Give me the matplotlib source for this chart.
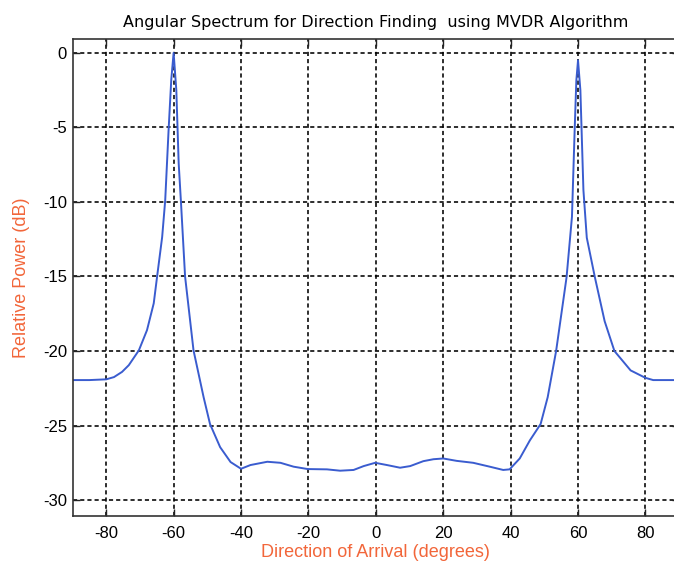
import matplotlib
matplotlib.use("Agg")
import matplotlib.pyplot as plt

plt.rcParams['font.family'] = ['Liberation Sans', 'DejaVu Sans']
plt.rcParams['axes.unicode_minus'] = False

# angle of arrival (degrees) and MVDR spectrum (dB)
angles = [-90, -85, -80, -77.7, -75.3, -73.3, -70.3, -67.9, -65.9, -64.9,
          -63.4, -62.5, -61.5, -60.7, -60.0, -59.2, -58.5, -57.8, -56.6, -54.1,
          -51.1, -49.2, -46.2, -43.1, -40.0, -37.2, -32.2, -28.3, -24.4, -20.2,
          -14.5, -10.6, -6.6, -3.6, -0.2, 3.3, 7.2, 10.2, 14.1, 17.1,
          20.0, 24.0, 28.9, 33.8, 37.8, 39.7, 42.7, 45.7, 48.9,
          51.0, 53.5, 56.6, 58.2, 59.0, 59.5, 60.0, 60.7, 61.6, 62.6,
          65.0, 67.9, 70.8, 75.6, 80.0, 82.3, 90]
power_db = [-21.95, -21.95, -21.9, -21.75, -21.4, -20.95, -19.95, -18.6, -16.8, -15.0,
            -12.35, -9.9, -5.2, -1.8, 0.0, -2.5, -7.4, -10.1, -15.0, -19.95,
            -23.1, -24.9, -26.45, -27.45, -27.9, -27.65, -27.43, -27.5, -27.76, -27.92,
            -27.94, -28.03, -27.98, -27.72, -27.5, -27.65, -27.83, -27.72, -27.39, -27.26,
            -27.21, -27.37, -27.5, -27.76, -27.98, -27.94, -27.21, -26.0, -24.9,
            -23.1, -20.0, -15.05, -11.0, -5.2, -1.85, -0.5, -2.5, -9.2, -12.4,
            -15.05, -18.0, -20.0, -21.3, -21.8, -21.95, -21.95]

x_ticks = [-80, -60, -40, -20, 0, 20, 40, 60, 80]
y_ticks = [0, -5, -10, -15, -20, -25, -30]

orange = '#f2663a'

fig = plt.figure(figsize=(6.74, 5.65), dpi=100)
# right edge of the axes sits just outside the picture, as in the original
ax = fig.add_axes([0.1076, 0.0867, 0.900, 0.8442])

ax.plot(angles, power_db, color='#3a5ccf', linewidth=1.4)

ax.set_xlim(-90, 90)
ax.set_ylim(-31.07, 0.93)
ax.set_xticks(x_ticks)
ax.set_yticks(y_ticks)

# MATLAB-like dotted grid and inward ticks on all sides
ax.grid(True, color='black', linestyle=(0, (2.6, 1.9)), linewidth=1.15)
ax.tick_params(direction='in', top=True, right=True, length=5, width=1.0,
               labelsize=12, color='#222222')
ax.tick_params(axis='x', pad=7)
ax.tick_params(axis='y', pad=4)
for s in ax.spines.values():
    s.set_linewidth(1.2)
    s.set_color('#333333')

ax.set_title('Angular Spectrum for Direction Finding  using MVDR Algorithm',
             fontsize=11.5, pad=9, family='DejaVu Sans')
ax.set_xlabel('Direction of Arrival (degrees)', color=orange, fontsize=13, labelpad=2)
ax.set_ylabel('Relative Power (dB)', color=orange, fontsize=13, labelpad=9)

fig.savefig('out.png', dpi=100)
